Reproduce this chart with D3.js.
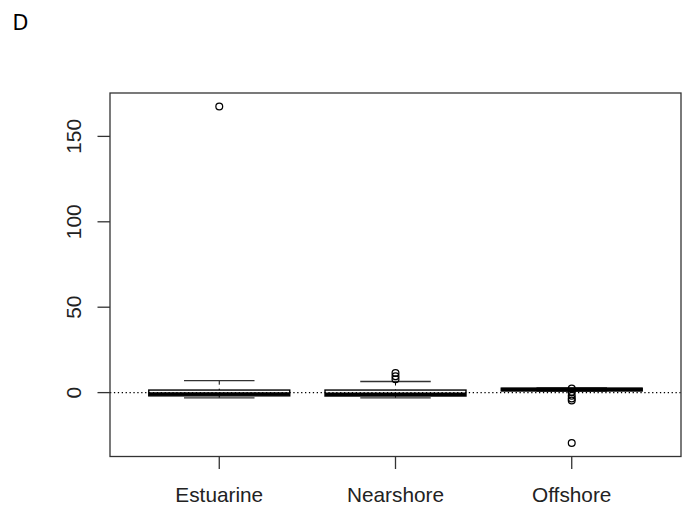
<!DOCTYPE html>
<html>
<head>
<meta charset="utf-8">
<script src="https://cdn.jsdelivr.net/npm/d3@7"></script>
<style>
  html, body { margin: 0; padding: 0; background: #fff; }
  svg { display: block; }
  text { font-family: "Liberation Sans", Arial, sans-serif; fill: #222; }
</style>
</head>
<body>
<svg id="chart" width="688" height="508"></svg>
<script>
// ---- data ----
const categories = ["Estuarine", "Nearshore", "Offshore"];
const whiskerLow  = [-3.1, -3.1, 0.9];
const q1          = [-1.9, -2.0, 1.0];
const median      = [-0.8, -0.9, 1.8];
const q3          = [1.5, 1.5, 2.6];
const whiskerHigh = [7.0, 6.5, 2.8];
const outliersEstuarine = [167.5];
const outliersNearshore = [7.8, 9.6, 11.5];
const outliersOffshore  = [2.4, 0.3, -1.8, -3.4, -4.6, -29.5];
const outliers = [outliersEstuarine, outliersNearshore, outliersOffshore];
const yTicks = [0, 50, 100, 150];
const panelLabel = "D";

// ---- layout ----
const svg = d3.select("#chart");
const plot = { left: 110, right: 681, top: 93, bottom: 456.5 };

const x = d3.scaleLinear()
  .domain([0.5 - 0.12, categories.length + 0.5 + 0.12])
  .range([plot.left, plot.right]);

const y = d3.scaleLinear()
  .domain([-37.4, 175.4])
  .range([plot.bottom, plot.top]);

const boxW = x(0.8) - x(0);
const stapleW = boxW / 2;

// panel label
svg.append("text")
  .attr("x", 12.5).attr("y", 29.5)
  .style("font-family", "'DejaVu Sans', sans-serif")
  .style("font-size", "20.6px")
  .style("fill", "#000")
  .text(panelLabel);

// boxes
const g = svg.append("g");
categories.forEach((c, i) => {
  const cx = x(i + 1);
  // whiskers (dashed) from staple to box
  g.append("line")
    .attr("x1", cx).attr("x2", cx)
    .attr("y1", y(whiskerHigh[i])).attr("y2", y(q3[i]))
    .attr("stroke", "#000").attr("stroke-width", 1)
    .attr("stroke-dasharray", "4,4");
  g.append("line")
    .attr("x1", cx).attr("x2", cx)
    .attr("y1", y(whiskerLow[i])).attr("y2", y(q1[i]))
    .attr("stroke", "#000").attr("stroke-width", 1)
    .attr("stroke-dasharray", "4,4");
  // staples
  [whiskerHigh[i], whiskerLow[i]].forEach(v => {
    g.append("line")
      .attr("x1", cx - stapleW / 2).attr("x2", cx + stapleW / 2)
      .attr("y1", y(v)).attr("y2", y(v))
      .attr("stroke", "#333").attr("stroke-width", 1.3);
  });
  // box
  g.append("rect")
    .attr("x", cx - boxW / 2).attr("width", boxW)
    .attr("y", y(q3[i])).attr("height", Math.max(0.5, y(q1[i]) - y(q3[i])))
    .attr("fill", "#fff").attr("stroke", "#000").attr("stroke-width", 1.4);
  // median
  g.append("line")
    .attr("x1", cx - boxW / 2).attr("x2", cx + boxW / 2)
    .attr("y1", y(median[i])).attr("y2", y(median[i]))
    .attr("stroke", "#000").attr("stroke-width", 3.5);
  // outliers
  outliers[i].forEach(v => {
    g.append("circle")
      .attr("cx", cx).attr("cy", y(v)).attr("r", 3.4)
      .attr("fill", "none").attr("stroke", "#000").attr("stroke-width", 1.25);
  });
});

// dotted zero line
svg.append("line")
  .attr("x1", plot.left).attr("x2", plot.right)
  .attr("y1", y(0)).attr("y2", y(0))
  .attr("stroke", "#000").attr("stroke-width", 1.1)
  .attr("stroke-dasharray", "1.3,2.6");

// frame
svg.append("rect")
  .attr("x", plot.left).attr("y", plot.top)
  .attr("width", plot.right - plot.left).attr("height", plot.bottom - plot.top)
  .attr("fill", "none").attr("stroke", "#333").attr("stroke-width", 1.3);

// y axis ticks & labels
yTicks.forEach(t => {
  svg.append("line")
    .attr("x1", plot.left - 12.5).attr("x2", plot.left)
    .attr("y1", y(t)).attr("y2", y(t))
    .attr("stroke", "#333").attr("stroke-width", 1.3);
  svg.append("text")
    .attr("transform", `translate(81,${y(t)}) rotate(-90)`)
    .attr("text-anchor", "middle")
    .style("font-size", "20.8px")
    .text(d3.format("d")(t));
});

// x axis ticks & labels
categories.forEach((c, i) => {
  const cx = x(i + 1);
  svg.append("line")
    .attr("x1", cx).attr("x2", cx)
    .attr("y1", plot.bottom).attr("y2", plot.bottom + 12.5)
    .attr("stroke", "#333").attr("stroke-width", 1.3);
  svg.append("text")
    .attr("x", cx).attr("y", 502)
    .attr("text-anchor", "middle")
    .style("font-size", "20.8px")
    .text(c);
});
</script>
</body>
</html>
